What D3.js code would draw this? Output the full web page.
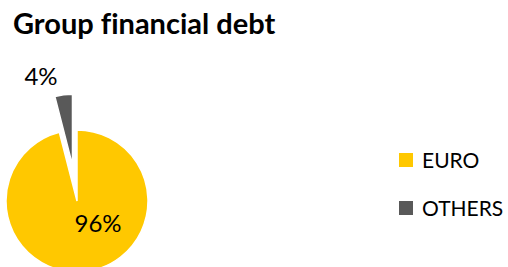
<!DOCTYPE html>
<html>
<head>
<meta charset="utf-8">
<script src="https://cdn.jsdelivr.net/npm/d3@7"></script>
<style>
  body { margin: 0; background: #fff; }
  svg { display: block; font-family: Lato, "Open Sans", sans-serif; font-variant-ligatures: none; }
</style>
</head>
<body>
<svg id="chart"></svg>
<script>
// data
const categories = ['EURO', 'OTHERS'];
const shares = [96, 4];
const labels = ['96%', '4%'];
const colors = ['#FFC800', '#595959'];

const W = 508, H = 267;
const cx = 77, cy = 201, radius = 71, explode = 36;

const svg = d3.select('#chart').attr('width', W).attr('height', H);

svg.append('text')
    .attr('x', 13).attr('y', 34)
    .attr('font-weight', 700)
    .attr('font-size', 29)
    .attr('fill', '#000')
    .text('Group financial debt');

const data = categories.map((c, i) => ({ cat: c, value: shares[i], label: labels[i], color: colors[i] }));

const pie = d3.pie().sort(null).value(d => d.value);
const arc = d3.arc().innerRadius(0).outerRadius(radius);
const arcs = pie(data);

const g = svg.append('g').attr('transform', `translate(${cx},${cy})`);

// offset for exploded slice (OTHERS)
function shift(d) {
  if (d.data.cat !== 'OTHERS') return [0, 0];
  const a = (d.startAngle + d.endAngle) / 2;
  return [explode * Math.sin(a), -explode * Math.cos(a)];
}

g.selectAll('path')
  .data(arcs)
  .join('path')
    .attr('d', arc)
    .attr('transform', d => `translate(${shift(d)})`)
    .attr('fill', d => d.data.color)
    .attr('stroke', '#fff')
    .attr('stroke-width', 1.5);

// label positions relative to pie centre
const labelPos = { EURO: [21, 31], OTHERS: [-36, -116] };
g.selectAll('text.lbl')
  .data(arcs)
  .join('text')
    .attr('class', 'lbl')
    .attr('x', d => labelPos[d.data.cat][0])
    .attr('y', d => labelPos[d.data.cat][1])
    .attr('text-anchor', 'middle')
    .attr('font-size', 24)
    .attr('fill', '#000')
    .text(d => d.data.label);

// legend
const legend = svg.append('g').attr('transform', 'translate(399,153)');
const item = legend.selectAll('g')
  .data(data)
  .join('g')
    .attr('transform', (d, i) => `translate(0,${i * 48})`);
item.append('rect')
    .attr('width', 14).attr('height', 14)
    .attr('fill', d => d.color);
item.append('text')
    .attr('x', 23).attr('y', 14.5)
    .attr('font-size', 21)
    .attr('fill', '#000')
    .text(d => d.cat);
</script>
</body>
</html>
